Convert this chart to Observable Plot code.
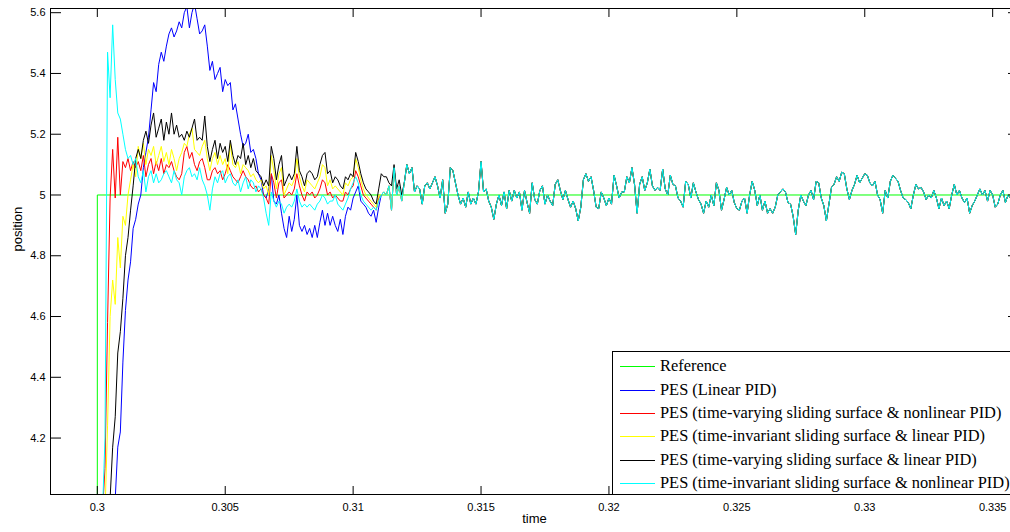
<!DOCTYPE html>
<html>
<head>
<meta charset="utf-8">
<script src="https://cdn.jsdelivr.net/npm/d3@7"></script>
<script src="https://cdn.jsdelivr.net/npm/@observablehq/plot@0.6"></script>
<style>
  html, body { margin: 0; padding: 0; background: #fff; overflow: hidden; }
  #wrap { position: relative; width: 1010px; height: 532px; overflow: hidden; }
  #chart svg { max-width: none !important; display: block; }
  #legend { position: absolute; left: 612px; top: 351px; width: 430px; height: 144px; box-sizing: border-box;
            border: 1px solid #000; background: #fff; font-family: "Liberation Serif", "Times New Roman", serif; font-size: 16.4px; color: #000; }
  .row { position: absolute; left: 0; height: 22px; line-height: 22px; white-space: nowrap; width: 420px; }
  .sw { position: absolute; left: 7px; top: 11px; width: 35px; height: 1px; }
  .lab { position: absolute; left: 47px; top: 0; }
</style>
</head>
<body>
<div id="wrap"><div id="chart"></div><div id="legend"></div></div>
<script>
// ---- data ----
const t0 = 0.3, dt = 0.0001;           // sample times of all PES series
const xTicks = [0.3, 0.305, 0.31, 0.315, 0.32, 0.325, 0.33, 0.335];
const yTicks = [4.2, 4.4, 4.6, 4.8, 5, 5.2, 5.4, 5.6];

const seriesNames = [
  "Reference",
  "PES (Linear PID)",
  "PES (time-varying sliding surface & nonlinear PID)",
  "PES (time-invariant sliding surface & linear PID)",
  "PES (time-varying sliding surface & linear PID)",
  "PES (time-invariant sliding surface & nonlinear PID)"
];
const seriesColors = ["#00ff00", "#0000ff", "#ff0000", "#ffff00", "#000000", "#00ffff"];

// reference step
const refT = [0.299, 0.3, 0.3, 0.3361];
const refV = [4, 4, 5, 5];

// early (transient) part of each PES series, samples from t0
const blueEarly = [
  3.9, 3.9, 3.9, 3.9, 3.9, 3.95, 3.98, 4.0, 4.17, 4.22,
  4.45, 4.62, 4.72, 4.78, 4.89, 4.92, 4.97, 5.0, 5.09, 5.14,
  5.19, 5.28, 5.37, 5.34, 5.43, 5.47, 5.44, 5.49, 5.53, 5.55,
  5.52, 5.54, 5.57, 5.55, 5.6, 5.62, 5.55, 5.6, 5.63, 5.58,
  5.53, 5.54, 5.56, 5.49, 5.41, 5.44, 5.38, 5.40, 5.42, 5.34,
  5.38, 5.36, 5.37, 5.28, 5.30, 5.25, 5.20, 5.16, 5.17, 5.20,
  5.14, 5.15, 5.12, 5.07, 5.05, 5.0, 4.99, 5.02, 5.07, 4.98,
  4.97, 5.0, 4.94, 4.89, 4.86, 4.93, 4.88, 4.92, 5.0, 4.9,
  4.88, 4.9, 4.87, 4.89, 4.86, 4.9, 4.86, 4.91, 4.95, 4.9,
  4.94, 4.90, 4.93, 4.9, 4.88, 4.92, 4.87, 4.93, 4.96, 4.95,
  4.99, 5.01, 5.03, 4.98, 4.97, 4.96, 4.94, 4.93, 4.95, 4.91, 4.96
];
const redEarly = [
  3.9, 3.9, 3.95, 4.1, 4.58, 4.99, 5.15, 4.99, 5.19, 5.0,
  5.11, 5.09, 5.12, 5.08, 5.11, 5.09, 5.11, 5.08, 5.13, 5.06,
  5.10, 5.12, 5.07, 5.11, 5.08, 5.12, 5.07, 5.10, 5.09, 5.11,
  5.08, 5.06, 5.05, 5.07, 5.14, 5.16, 5.12, 5.14, 5.10, 5.08,
  5.11, 5.12, 5.09, 5.05, 5.05, 5.08, 5.09, 5.07, 5.08, 5.05,
  5.07, 5.10, 5.08, 5.06, 5.05, 5.04, 5.06, 5.08, 5.06, 5.05,
  5.03, 5.02, 5.03, 5.01, 5.02, 5.0, 4.99, 4.97, 5.07, 5.04,
  4.99, 5.04, 5.05, 4.99, 5.0, 5.01, 5.0, 5.02, 5.07, 5.03,
  5.0, 4.98, 5.01, 5.0, 5.01, 4.99, 5.0, 5.02, 5.05, 5.04,
  5.0, 5.01, 4.99, 5.0, 4.99, 4.98, 4.98, 5.01, 5.0, 5.02,
  5.03, 5.08, 5.06, 5.03, 5.0, 4.99, 4.98, 4.97, 4.96, 4.95, 4.99
];
const yellowEarly = [
  3.9, 3.9, 3.9, 3.95, 4.24, 4.6, 4.72, 4.64, 4.86, 4.76,
  4.93, 4.9, 5.0, 5.05, 5.1, 5.06, 5.16, 5.12, 5.17, 5.10,
  5.15, 5.13, 5.16, 5.10, 5.13, 5.16, 5.11, 5.14, 5.10, 5.15,
  5.12, 5.08, 5.12, 5.14, 5.17, 5.16, 5.20, 5.22, 5.15, 5.14,
  5.13, 5.16, 5.18, 5.12, 5.08, 5.12, 5.14, 5.10, 5.13, 5.10,
  5.12, 5.07, 5.17, 5.10, 5.09, 5.11, 5.07, 5.10, 5.09, 5.08,
  5.06, 5.07, 5.05, 5.04, 5.05, 5.02, 5.03, 5.0, 5.13, 5.08,
  5.02, 5.07, 5.09, 5.0, 5.02, 5.04, 5.03, 5.05, 5.12, 5.06,
  5.03, 5.01, 5.05, 5.04, 5.03, 5.02, 5.04, 5.06, 5.1, 5.09,
  5.03, 5.05, 5.02, 5.03, 5.02, 5.01, 5.0, 5.04, 5.03, 5.05,
  5.06, 5.12, 5.09, 5.05, 5.02, 5.0, 4.99, 4.98, 4.97, 4.96, 5.0
];
const blackEarly = [
  3.9, 3.9, 3.9, 3.9, 3.95, 4.0, 4.17, 4.27, 4.48, 4.55,
  4.66, 4.8, 4.86, 4.95, 5.03, 5.12, 5.15, 5.12, 5.18, 5.21,
  5.17, 5.23, 5.27, 5.19, 5.22, 5.25, 5.18, 5.24, 5.20, 5.27,
  5.20, 5.23, 5.19, 5.20, 5.18, 5.21, 5.19, 5.22, 5.25, 5.18,
  5.19, 5.18, 5.26, 5.16, 5.11, 5.15, 5.18, 5.12, 5.17, 5.14,
  5.16, 5.11, 5.18, 5.13, 5.10, 5.13, 5.12, 5.17, 5.10, 5.13,
  5.09, 5.12, 5.08, 5.07, 5.06, 5.03, 5.05, 5.03, 5.16, 5.12,
  5.05, 5.10, 5.13, 5.03, 5.05, 5.07, 5.05, 5.07, 5.16, 5.08,
  5.06, 5.03, 5.07, 5.08, 5.07, 5.05, 5.06, 5.10, 5.13, 5.14,
  5.07, 5.08, 5.04, 5.06, 5.05, 5.03, 5.02, 5.06, 5.05, 5.07,
  5.06, 5.14, 5.11, 5.07, 5.04, 5.02, 5.01, 5.0, 4.98, 4.97,
  5.02, 5.07, 5.06, 5.06, 5.04, 5.03, 5.1, 5.02, 5.05, 5.0
];
const cyanEarly = [
  3.9, 3.9, 3.95, 4.2, 5.47, 5.32, 5.56, 5.38, 5.27, 5.25,
  5.2, 5.15, 5.12, 5.13, 5.10, 5.12, 5.06, 5.04, 5.08, 5.01,
  5.06, 5.08, 5.04, 5.07, 5.04, 5.05, 5.07, 5.08, 5.06, 5.04,
  5.08, 5.05, 5.04, 5.0, 5.06, 5.08, 5.09, 5.06, 5.07, 5.05,
  5.09, 5.05, 5.03, 5.0, 4.95, 5.02, 5.06, 5.04, 5.07, 5.08,
  5.04, 5.06, 5.07, 5.04, 5.03, 5.05, 5.01, 5.04, 5.06, 5.02,
  5.05, 5.04, 5.01, 5.03, 5.02, 4.99, 4.94, 4.90, 5.01, 4.98,
  4.96, 4.98, 4.97, 4.94, 4.96, 4.97, 4.96, 4.98, 5.02, 4.98,
  4.96, 4.97, 4.96, 4.97, 4.96, 4.95, 4.97, 4.98, 5.0, 4.99,
  4.97, 4.98, 4.98, 5.0, 4.97, 4.96, 4.95, 4.97, 4.99, 5.02,
  5.04, 5.06, 5.04, 5.0, 4.98, 4.97, 4.96, 4.95, 4.96, 4.95, 4.98
];
// settled part shared by all PES series, samples from t0 + 111*dt
const settled = [
  5.0, 5.01, 5.0, 5.03, 4.95, 5.09, 5.0, 5.03, 4.98, 5.04,
  5.1, 5.07, 5.09, 5.01, 5.03, 5.02, 4.97, 5.03, 5.04, 5.02,
  5.04, 5.06, 5.03, 4.99, 5.05, 4.94, 4.97, 5.09, 5.08, 5.04,
  5.0, 4.97, 4.99, 4.96, 5.01, 4.97, 4.99, 4.97, 5.01, 5.11,
  5.01, 5.02, 4.98, 4.96, 4.92, 4.97, 5.0,
  4.965, 5.01, 4.955, 5.015, 4.98, 5.015, 4.99, 5.01, 4.95, 5.015,
  4.975, 4.94, 5.04, 4.985, 4.97, 5.015, 5.03, 4.97, 5.0,
  4.98, 4.965, 5.035, 5.05, 5.015, 4.985, 5.015, 4.985, 4.96, 4.98,
  4.955, 4.915, 4.96, 5.05, 5.07, 5.045, 5.06, 5.015, 4.96, 4.955,
  5.01, 4.99, 4.965, 4.99, 4.97, 5.065, 5.03, 4.99, 5.01,
  5.01, 5.06, 5.04, 5.09, 5.035, 4.94, 5.035, 5.06, 5.015, 5.04,
  5.085, 5.03, 5.015, 5.025, 5.015, 5.085, 5.02, 5.0, 5.065,
  5.035, 5.03, 4.99, 4.98, 4.96, 5.045, 5.035, 4.99, 5.04, 5.01,
  4.985, 4.97, 4.94, 4.98, 4.96, 5.0, 4.965, 5.04, 5.015, 4.95,
  4.985, 5.025, 5.0, 5.015, 4.975, 4.955, 4.95, 4.98, 4.99,
  4.94, 5.0, 5.045,
  5.015, 4.965, 5.0, 4.95, 4.98, 4.94, 4.955, 4.94, 4.96, 5.0,
  5.01, 5.02, 5.01, 4.975, 4.97, 4.93, 4.87, 4.95, 5.0,
  4.98, 4.965, 5.0, 5.015, 4.985, 5.045, 5.04, 4.99, 4.965,
  4.915, 4.97, 5.025, 5.035, 5.06, 5.045, 5.075, 5.07, 5.02,
  4.985, 5.015, 5.035, 5.065, 5.04, 5.055, 5.07, 5.065, 5.04,
  5.03, 5.045, 5.0, 4.985, 4.94, 5.015, 4.99, 5.045, 5.065, 5.055,
  5.045, 5.015, 4.99, 4.985, 4.975, 4.955, 5.0, 5.035, 5.02,
  5.025, 5.01, 4.985, 5.0, 4.99, 5.015, 4.99, 4.955, 4.99, 4.965,
  4.98, 4.955, 5.0, 5.035, 5.0, 5.015, 4.99, 4.975, 4.99,
  4.94, 4.965, 4.98, 5.0, 5.02, 5.0, 5.015, 4.98, 5.015,
  5.0, 4.96, 4.97, 5.0, 5.015, 4.975, 5.0, 4.99, 4.98,
  5.03, 5.04
];
const settledStart = 111;

// ---- build tables ----
const earlies = [blueEarly, redEarly, yellowEarly, blackEarly, cyanEarly];
const pesRows = earlies.map((early, s) => {
  const vals = early.concat(settled.slice(early.length - settledStart));
  return vals.map((v, i) => ({t: t0 + i * dt, v, s: s + 1}));
});
const refRows = refT.map((t, i) => ({t, v: refV[i]}));

const W = 1030, H = 532, mL = 50, mR = 12, mT = 8, mB = 38;
const plotW = W - mL - mR, plotH = H - mT - mB;
const fmt = d => String(d);

const chart = Plot.plot({
  width: W, height: H,
  marginLeft: mL, marginRight: mR, marginTop: mT, marginBottom: mB,
  x: {domain: [0.29817, 0.33601], label: null},
  y: {domain: [4.0142, 5.6138], label: null},
  style: {fontFamily: "'Liberation Sans', Arial, sans-serif", fontSize: "11px", color: "#000", background: "#fff"},
  marks: [
    Plot.line(refRows, {x: "t", y: "v", stroke: seriesColors[0], strokeWidth: 1, clip: true}),
    ...pesRows.map((rows, s) => Plot.line(rows, {x: "t", y: "v", stroke: seriesColors[s + 1], strokeWidth: 1, clip: true})),
    Plot.frame({stroke: "#000", strokeWidth: 1}),
    Plot.axisX(xTicks, {anchor: "bottom", tickSize: 0, tickPadding: 9, tickFormat: fmt, label: null}),
    Plot.axisY(yTicks, {anchor: "left", tickSize: 0, tickPadding: 5, tickFormat: fmt, label: null}),
    Plot.axisX(xTicks, {anchor: "top", tickSize: 9, dy: plotH, tickFormat: () => "", label: null}),
    Plot.axisX(xTicks, {anchor: "bottom", tickSize: 9, dy: -plotH, tickFormat: () => "", label: null}),
    Plot.axisY(yTicks, {anchor: "right", tickSize: 10, dx: -plotW, tickFormat: () => "", label: null}),
    Plot.axisY(yTicks, {anchor: "left", tickSize: 10, dx: plotW, tickFormat: () => "", label: null}),
    Plot.text(["time"], {frameAnchor: "bottom", dy: 28, fontSize: 13, fill: "#000"}),
    Plot.text(["position"], {frameAnchor: "left", dx: -33, rotate: -90, fontSize: 13, fill: "#000"})
  ]
});
chart.style.maxWidth = "none";
chart.setAttribute("width", W);
chart.setAttribute("height", H);
document.getElementById("chart").appendChild(chart);

// ---- legend ----
const legend = document.getElementById("legend");
const rowCenters = [14, 38, 61, 84, 108, 131];
seriesNames.forEach((name, i) => {
  const row = document.createElement("div");
  row.className = "row";
  row.style.top = (rowCenters[i] - 11) + "px";
  const sw = document.createElement("div");
  sw.className = "sw";
  sw.style.background = seriesColors[i];
  const lab = document.createElement("div");
  lab.className = "lab";
  lab.textContent = name;
  row.appendChild(sw);
  row.appendChild(lab);
  legend.appendChild(row);
});
</script>
</body>
</html>
